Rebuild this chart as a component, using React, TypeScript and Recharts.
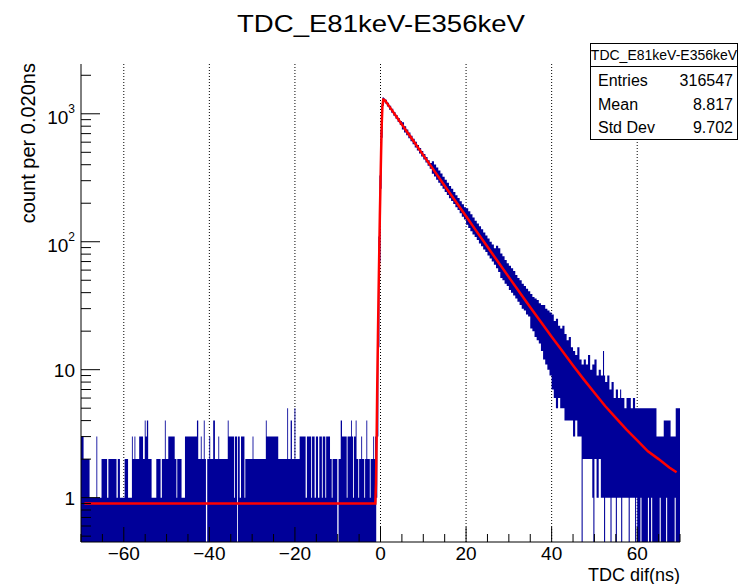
import React from 'react';
import { ComposedChart, Area, Line, XAxis, YAxis, CartesianGrid } from 'recharts';

const TITLE = 'TDC_E81keV-E356keV';
const X_TITLE = 'TDC dif(ns)';
const Y_TITLE = 'count per 0.020ns';
const STATS_TITLE = 'TDC_E81keV-E356keV';
const STATS_LABELS = ['Entries', 'Mean', 'Std Dev'];
const STATS_VALUES = ['316547', '8.817', '9.702'];

const X_DOMAIN: [number, number] = [-70, 70];
const Y_DOMAIN: [number, number] = [0.45, 2450];
const X_MAJOR = [-60, -40, -20, 0, 20, 40, 60];
const X_MINOR = [-70, -65, -55, -50, -45, -35, -30, -25, -15, -10, -5, 5, 10, 15, 25, 30, 35, 45, 50, 55, 65, 70];
const Y_MAJOR = [1, 10, 100, 1000];
const Y_MAJOR_LABELS: [string, string][] = [['1', ''], ['10', ''], ['10', '2'], ['10', '3']];
const Y_MINOR = [0.5, 0.6, 0.7, 0.8, 0.9, 2, 3, 4, 5, 6, 7, 8, 9, 20, 30, 40, 50, 60, 70, 80, 90, 200, 300, 400, 500, 600, 700, 800, 900, 2000];

// background region: [column start (ns), max count]; 0 = empty column
const bgSegments: [number, number][] = [
  [-70.0, 3], [-69.4, 2], [-68.0, 1], [-66.4, 3], [-66.2, 1], [-65.2, 2], [-63.9, 1], [-63.6, 2],
  [-61.7, 1], [-61.4, 2], [-60.9, 1], [-59.8, 2], [-59.0, 1], [-58.1, 3], [-57.9, 2], [-57.5, 3],
  [-57.3, 2], [-56.4, 3], [-55.5, 2], [-55.1, 4], [-54.9, 3], [-54.6, 4], [-54.3, 2], [-53.5, 1],
  [-52.4, 2], [-51.4, 1], [-51.1, 2], [-50.4, 4], [-50.2, 2], [-49.6, 3], [-48.1, 2], [-47.7, 1],
  [-47.5, 2], [-46.5, 1], [-45.7, 3], [-42.9, 4], [-42.6, 2], [-42.0, 3], [-41.8, 2], [-41.3, 4],
  [-41.1, 2], [-40.8, 0], [-40.5, 2], [-40.0, 3], [-39.8, 2], [-39.1, 4], [-38.7, 2], [-37.9, 3],
  [-37.7, 2], [-35.7, 4], [-35.5, 3], [-34.2, 1], [-34.0, 3], [-33.5, 0], [-33.3, 3], [-32.9, 1],
  [-32.6, 3], [-31.8, 1], [-31.6, 2], [-29.9, 3], [-29.7, 2], [-26.8, 4], [-26.6, 3], [-23.9, 2],
  [-21.8, 5], [-21.6, 2], [-21.0, 4], [-20.7, 2], [-20.1, 5], [-19.9, 2], [-18.9, 3], [-17.5, 1],
  [-17.2, 3], [-16.2, 1], [-16.0, 3], [-15.4, 1], [-15.1, 3], [-14.6, 1], [-14.3, 3], [-13.7, 1],
  [-13.5, 3], [-12.9, 1], [-12.7, 3], [-11.8, 2], [-11.4, 1], [-11.2, 2], [-10.1, 0], [-9.8, 2],
  [-9.3, 4], [-9.0, 3], [-7.9, 1], [-7.7, 3], [-6.9, 4], [-6.7, 3], [-6.4, 1], [-6.2, 3],
  [-5.8, 4], [-5.6, 2], [-5.2, 1], [-5.0, 2], [-4.5, 3], [-4.3, 2], [-3.8, 1], [-3.6, 2],
  [-3.3, 4], [-3.1, 2], [-2.5, 1], [-2.3, 2], [-1.7, 3], [-1.5, 2],
];

// rising edge and decay: [column start (ns), min count, max count]; 0 = reaches empty bins
const peakBins: [number, number, number][] = [
  [-1.25, 0, 3], [-1.0, 1, 6], [-0.75, 3, 25], [-0.5, 15, 110], [-0.25, 70, 330],
  [0.0, 260, 750], [0.25, 650, 1200], [0.5, 1150, 1345], [0.75, 1250, 1320],
];

const decayBins: [number, number, number][] = [
  [1.0, 1202, 1290], [1.5, 1138, 1220], [2.0, 1077, 1155], [2.5, 1020, 1094], [3.0, 964, 1034],
  [3.5, 913, 979], [4.0, 864, 926], [4.5, 817, 877], [5.0, 755, 860], [5.5, 715, 800],
  [6.0, 681, 753], [6.5, 645, 713], [7.0, 610, 674], [7.5, 578, 638], [8.0, 546, 604],
  [8.5, 517, 571], [9.0, 489, 541], [9.5, 463, 512], [10.0, 439, 485], [10.5, 416, 460],
  [11.0, 392, 434], [11.5, 372, 412], [12.0, 340, 425], [12.5, 323, 402], [13.0, 305, 380],
  [13.5, 289, 360], [14.0, 274, 342], [14.5, 259, 322], [15.0, 245, 305], [15.5, 232, 289],
  [16.0, 219, 273], [16.5, 208, 259], [17.0, 197, 245], [17.5, 186, 231], [18.0, 177, 220],
  [18.5, 167, 207], [19.0, 157, 196], [19.5, 149, 186], [20.0, 136, 183], [20.5, 128, 173],
  [21.0, 121, 164], [21.5, 114, 155], [22.0, 109, 146], [22.5, 103, 139], [23.0, 97, 132],
  [23.5, 92, 125], [24.0, 87, 118], [24.5, 83, 112], [25.0, 78, 106], [25.5, 74, 100],
  [26.0, 70, 95], [26.5, 66, 89], [27.0, 62, 93], [27.5, 58, 89], [28.0, 52, 81],
  [28.5, 50, 77], [29.0, 47, 72], [29.5, 45, 68], [30.0, 42, 65], [30.5, 40, 62],
  [31.0, 38, 59], [31.5, 36, 55], [32.0, 34, 52], [32.5, 32, 50], [33.0, 30, 47],
  [33.5, 29, 45], [34.0, 27, 43], [34.5, 26, 41], [35.0, 21, 39], [35.5, 20, 37],
  [36.0, 18, 36], [36.5, 17, 35], [37.0, 16, 33], [37.5, 14, 32], [38.0, 12, 32],
  [38.5, 11, 30], [39.0, 10, 29], [39.5, 9, 28], [40.0, 7, 27], [40.5, 6, 24],
  [41.0, 5, 25], [41.5, 6, 22], [42.0, 5, 21], [42.5, 5, 22], [43.0, 4, 19],
  [43.5, 4, 17], [44.0, 4, 18], [44.5, 4, 15], [45.0, 3, 14], [45.5, 4, 13],
  [46.0, 3, 15], [46.5, 3, 12], [47.0, 0, 11], [47.25, 2, 11], [47.5, 2, 12],
  [48.0, 2, 11], [48.5, 2, 13], [49.0, 2, 10], [49.5, 1, 11], [49.75, 0, 11],
  [50.0, 2, 12], [50.5, 1, 9], [51.0, 2, 10], [51.5, 1, 9], [52.0, 1, 14],
  [52.25, 0, 9], [52.5, 1, 8], [53.0, 1, 9], [53.5, 1, 7], [53.75, 0, 7],
  [54.0, 1, 8], [54.5, 1, 6], [55.0, 0, 7], [55.25, 1, 7], [55.5, 1, 6],
  [56.0, 1, 7], [56.25, 0, 6], [56.5, 1, 6], [57.0, 1, 5], [57.5, 1, 6],
  [58.0, 0, 6], [58.25, 1, 6], [58.5, 1, 5], [59.0, 1, 6], [59.5, 0, 5],
  [59.75, 1, 5], [60.0, 0, 5], [60.75, 1, 5], [61.0, 0, 5], [62.5, 1, 5],
  [62.75, 0, 5], [63.25, 1, 5], [63.5, 0, 5], [64.5, 0, 3], [65.25, 1, 3],
  [65.5, 0, 3], [66.2, 0, 4], [66.75, 1, 4], [67.0, 0, 4], [67.8, 0, 3],
  [68.75, 1, 3], [69.0, 0, 5], [70.0, 0, 5],
];

// fitted function: [t (ns), value]
const fitCurve: [number, number][] = [
  [-69.2, 0.9], [-1.2, 0.9], [-1.05, 1.3], [-0.9, 3], [-0.75, 8], [-0.6, 18], [-0.45, 40],
  [-0.3, 80], [-0.15, 160], [0.0, 290], [0.15, 520], [0.3, 850], [0.45, 1150], [0.65, 1290],
  [1.0, 1282], [2.5, 1087], [5, 824], [7.5, 626], [10, 475], [12.5, 361], [15, 274],
  [17.5, 208], [20, 158], [22.5, 120], [25, 91.3], [27.5, 69.4], [30, 52.9], [32.5, 40.3],
  [35, 30.8], [37.5, 23.6], [40, 18.1], [42.5, 14.0], [45, 10.8], [47.5, 8.4], [50, 6.6],
  [52.5, 5.2], [55, 4.2], [57.5, 3.4], [60, 2.8], [62.5, 2.3], [65, 2.0], [67.5, 1.72], [69.2, 1.58],
];

const FLOOR = Y_DOMAIN[0];
const histData = [
  ...bgSegments.map(([t, hi]) => ({ t, lo: FLOOR, hi: hi === 0 ? FLOOR : hi })),
  ...peakBins.map(([t, lo, hi]) => ({ t, lo: lo === 0 ? FLOOR : lo, hi })),
  ...decayBins.map(([t, lo, hi]) => ({ t, lo: lo === 0 ? FLOOR : lo, hi })),
];
const fitData = fitCurve.map(([t, v]) => ({ t, fit: v }));

const X_TICKS = [...X_MAJOR, ...X_MINOR].sort((a, b) => a - b);
const Y_TICKS = [...Y_MAJOR, ...Y_MINOR].sort((a, b) => a - b);

const FONT = '"Liberation Sans", Arial, Helvetica, sans-serif';
const W = 739;
const H = 584;
const PLOT_LEFT = 81;
const PLOT_TOP = 64;
const PLOT_RIGHT = 680;
const PLOT_BOTTOM = 542;
const HIST_COLOR = '#000099';
const FIT_COLOR = '#ff0000';

function fmtX(v: number) {
  return v < 0 ? '\u2212' + Math.abs(v) : String(v);
}

function XTick(props: any) {
  const { x, payload } = props;
  const v = payload.value;
  const major = X_MAJOR.includes(v);
  return (
    <g>
      <line x1={x} x2={x} y1={PLOT_BOTTOM} y2={PLOT_BOTTOM - (major ? 15 : 8)} stroke="#000" strokeWidth={1} />
      {major && (
        <text x={x} y={560} textAnchor="middle" fontSize={19} fontFamily={FONT} fill="#000">
          {fmtX(v)}
        </text>
      )}
    </g>
  );
}

function YTick(props: any) {
  const { y, payload } = props;
  const v = payload.value;
  const idx = Y_MAJOR.indexOf(v);
  const major = idx >= 0;
  const lab = major ? Y_MAJOR_LABELS[idx] : null;
  return (
    <g>
      <line x1={PLOT_LEFT} x2={PLOT_LEFT + (major ? 19 : 10)} y1={y} y2={y} stroke="#000" strokeWidth={1} />
      {lab && (
        <text x={75} y={y + (lab[1] ? 10 : 7)} textAnchor="end" fontSize={19} fontFamily={FONT} fill="#000">
          <tspan>{lab[0]}</tspan>
          {lab[1] && (
            <tspan dy={-11} fontSize={12}>
              {lab[1]}
            </tspan>
          )}
        </text>
      )}
    </g>
  );
}

export default function App() {
  return (
    <div style={{ position: 'absolute', left: 0, top: 0, width: W, height: H, background: '#fff' }}>
      <ComposedChart width={W} height={H} margin={{ top: PLOT_TOP, right: W - PLOT_RIGHT, bottom: 0, left: 0 }}>
        <CartesianGrid
          xAxisId="b"
          yAxisId="l"
          horizontal={false}
          verticalValues={X_MAJOR}
          stroke="#000"
          strokeDasharray="1 2"
        />
        <XAxis
          xAxisId="b"
          dataKey="t"
          type="number"
          domain={X_DOMAIN}
          allowDataOverflow
          ticks={X_TICKS}
          interval={0}
          tick={<XTick />}
          tickLine={false}
          axisLine={{ stroke: '#000' }}
          height={H - PLOT_BOTTOM}
        />
        <XAxis
          xAxisId="top"
          orientation="top"
          dataKey="t"
          type="number"
          domain={X_DOMAIN}
          allowDataOverflow
          tick={false}
          tickLine={false}
          axisLine={{ stroke: '#000' }}
          height={0}
        />
        <YAxis
          yAxisId="l"
          type="number"
          scale="log"
          domain={Y_DOMAIN}
          allowDataOverflow
          ticks={Y_TICKS}
          interval={0}
          tick={<YTick />}
          tickLine={false}
          axisLine={{ stroke: '#000' }}
          width={PLOT_LEFT}
        />
        <YAxis
          yAxisId="r"
          orientation="right"
          type="number"
          scale="log"
          domain={Y_DOMAIN}
          allowDataOverflow
          tick={false}
          tickLine={false}
          axisLine={{ stroke: '#000' }}
          width={0}
        />
        <Area
          xAxisId="b"
          yAxisId="l"
          data={histData}
          dataKey={(d: any) => [d.lo, d.hi]}
          type="stepAfter"
          fill={HIST_COLOR}
          fillOpacity={1}
          stroke="none"
          isAnimationActive={false}
        />
        <Line
          xAxisId="b"
          yAxisId="l"
          data={fitData}
          dataKey="fit"
          type="linear"
          stroke={FIT_COLOR}
          strokeWidth={2.5}
          dot={false}
          isAnimationActive={false}
        />
      </ComposedChart>
      <svg width={W} height={H} style={{ position: 'absolute', left: 0, top: 0, pointerEvents: 'none' }}>
        <text x={381} y={32} textAnchor="middle" fontSize={24} fontFamily={FONT} textLength={288} lengthAdjust="spacingAndGlyphs" fill="#000">
          {TITLE}
        </text>
        <text x={680} y={581} textAnchor="end" fontSize={18} fontFamily={FONT} fill="#000">
          {X_TITLE}
        </text>
        <text transform="translate(35,63) rotate(-90)" textAnchor="end" fontSize={20} fontFamily={FONT} fill="#000">
          {Y_TITLE}
        </text>
        <rect x={590.5} y={43.5} width={147} height={96} fill="#fff" stroke="#000" strokeWidth={1} />
        <line x1={590.5} x2={737.5} y1={66.5} y2={66.5} stroke="#000" strokeWidth={1} />
        <text x={664} y={60} textAnchor="middle" fontSize={14} fontFamily={FONT} fill="#000">
          {STATS_TITLE}
        </text>
        {STATS_LABELS.map((lab, i) => (
          <g key={lab}>
            <text x={598} y={86 + i * 23.5} fontSize={16} fontFamily={FONT} fill="#000">
              {lab}
            </text>
            <text x={733} y={86 + i * 23.5} textAnchor="end" fontSize={16} fontFamily={FONT} fill="#000">
              {STATS_VALUES[i]}
            </text>
          </g>
        ))}
      </svg>
    </div>
  );
}
